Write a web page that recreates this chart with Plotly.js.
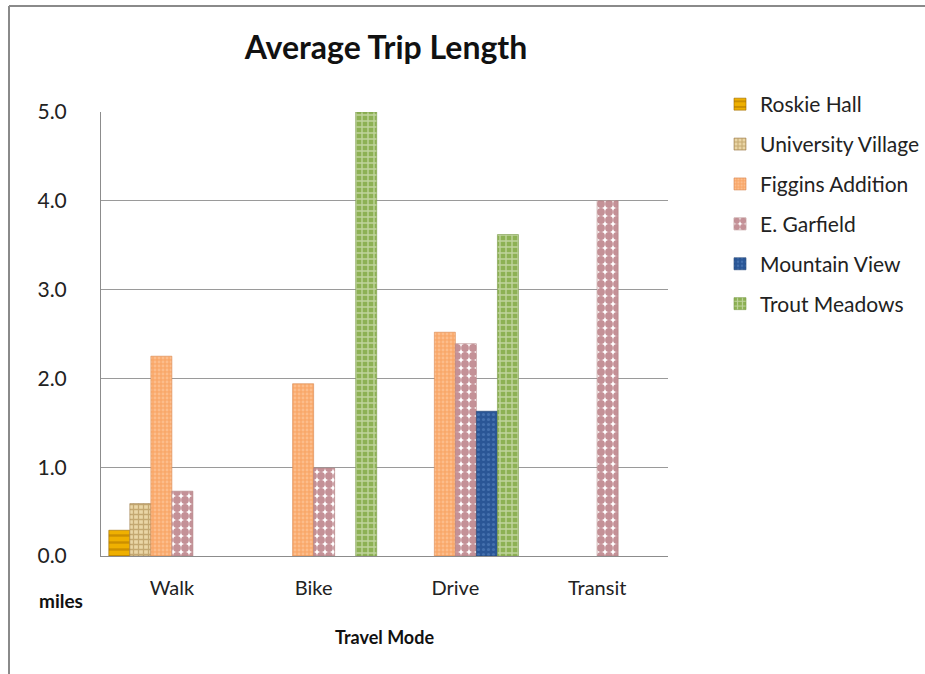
<!DOCTYPE html>
<html>
<head>
<meta charset="utf-8">
<script src="https://cdn.plot.ly/plotly-3.0.1.min.js"></script>
<style>
html,body{margin:0;padding:0;background:#fff;}
#chart{width:925px;height:674px;}
</style>
</head>
<body>
<div id="chart"></div>
<script>
const categories = ["Walk", "Bike", "Drive", "Transit"];
const seriesNames = ["Roskie Hall", "University Village", "Figgins Addition", "E. Garfield", "Mountain View", "Trout Meadows"];
const roskieHall = [0.29, null, null, null];
const universityVillage = [0.59, null, null, null];
const figginsAddition = [2.25, 1.94, 2.52, null];
const eGarfield = [0.73, 0.99, 2.39, 4.0];
const mountainView = [null, null, 1.63, null];
const troutMeadows = [null, 5.0, 3.62, null];
const yTickVals = [0, 1, 2, 3, 4, 5];
const yTickText = ["0.0", "1.0", "2.0", "3.0", "4.0", "5.0"];

const values = [roskieHall, universityVillage, figginsAddition, eGarfield, mountainView, troutMeadows];
const styles = [
  {bg: "#EFB000", fg: "#A86E00", shape: "-", size: 7, solidity: 0.35, line: "#9A6A00"},
  {bg: "#EAD6A6", fg: "#9E7A3C", shape: "+", size: 5, solidity: 0.45, line: "#A08050"},
  {bg: "#F9A86A", fg: "#FFD2AE", shape: ".", size: 4, solidity: 0.4, line: "#D88850"},
  {bg: "#FFFFFF", fg: "#8A2430", shape: ".", size: 8, solidity: 0.75, line: "#B08080"},
  {bg: "#2A5696", fg: "#5E8AC6", shape: ".", size: 5, solidity: 0.3, line: "#1E3F70"},
  {bg: "#8DB154", fg: "#F3F8E8", shape: "+", size: 6, solidity: 0.4, line: "#7A9A48"}
];

const data = seriesNames.map((name, i) => ({
  type: "bar",
  name: name,
  x: categories,
  y: values[i],
  legendgroup: "g" + i,
  marker: {
    color: styles[i].bg,
    line: {color: styles[i].line, width: 0.6},
    pattern: {shape: styles[i].shape, fgcolor: styles[i].fg, bgcolor: styles[i].bg, size: styles[i].size, solidity: styles[i].solidity, fillmode: "overlay"}
  },
  hoverinfo: "name+y"
}));

// helpers converting pixel frame to paper coords
const M = {l: 101, r: 257, t: 112, b: 118, autoexpand: false};
const PW = 925 - M.l - M.r, PH = 674 - M.t - M.b;
const px = v => (v - M.l) / PW;
const py = v => (674 - M.b - v) / PH;

const layout = {
  width: 925, height: 674,
  margin: M,
  paper_bgcolor: "#FFFFFF",
  plot_bgcolor: "#FFFFFF",
  font: {family: "Lato, 'Open Sans', sans-serif", color: "#222222", size: 18},
  title: {text: "<b>Average Trip Length</b>", font: {family: "Lato, sans-serif", size: 32, color: "#111111"}, x: px(386), xanchor: "center", xref: "paper", y: 1 - 48/674, yanchor: "middle"},
  barmode: "group",
  bargap: 0.11,
  bargroupgap: 0,
  xaxis: {
    type: "category",
    showgrid: false,
    showline: true, linecolor: "#8C8C8C", linewidth: 1,
    ticks: "", tickfont: {size: 20, color: "#222"},
    ticklabelstandoff: 14,
    title: {text: "<b>Travel Mode</b>", font: {size: 18, color: "#111"}, standoff: 33}
  },
  yaxis: {
    range: [0, 5],
    tickvals: yTickVals, ticktext: yTickText,
    showgrid: true, gridcolor: "#9A9A9A", gridwidth: 1,
    showline: true, linecolor: "#8C8C8C", linewidth: 1,
    zeroline: false,
    ticks: "", tickfont: {size: 21, color: "#222"},
    ticklabelstandoff: 29
  },
  legend: {
    x: px(720), xanchor: "left", y: py(84), yanchor: "top",
    font: {size: 21, color: "#222"},
    tracegroupgap: 9.6,
    itemwidth: 30,
    bgcolor: "rgba(0,0,0,0)"
  },
  annotations: [
    {text: "<b>miles</b>", xref: "paper", yref: "paper", x: px(61), y: py(600), xanchor: "center", yanchor: "middle", showarrow: false, font: {size: 19, color: "#111"}}
  ],
  shapes: [
    {type: "line", xref: "paper", yref: "paper", x0: px(9), x1: px(9), y0: py(6), y1: py(680), line: {color: "#8A8A8A", width: 2}},
    {type: "line", xref: "paper", yref: "paper", x0: px(9), x1: px(930), y0: py(6), y1: py(6), line: {color: "#8A8A8A", width: 2}}
  ],
  showlegend: true
};

Plotly.newPlot("chart", data, layout, {displayModeBar: false, staticPlot: false});
</script>
</body>
</html>
